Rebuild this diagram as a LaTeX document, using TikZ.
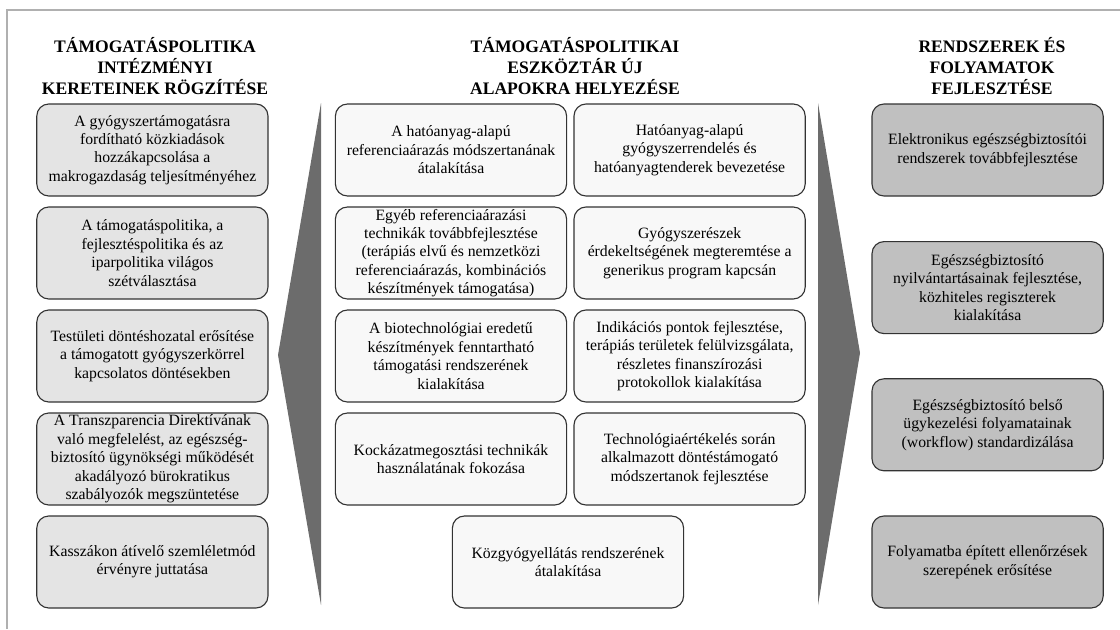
\documentclass[tikz,border=0pt]{standalone}
\usepackage{fontspec}
\setmainfont{Liberation Serif}
\usepackage{xcolor}
\definecolor{leftFill}{RGB}{228,228,228}
\definecolor{midFill}{RGB}{248,248,248}
\definecolor{rightFill}{RGB}{192,192,192}
\definecolor{arrowFill}{RGB}{108,108,108}
\definecolor{frameGray}{RGB}{176,176,176}
\usepackage{tikz}
\usetikzlibrary{positioning,calc}
\tikzstyle{box}=[draw=black!80, line width=0.8pt, rounded corners=0.3cm, minimum width=5.78cm, minimum height=2.3cm, inner xsep=2pt, inner ysep=0pt, align=center, font=\fontsize{11.2}{13.1}\selectfont]
\tikzstyle{head}=[align=center, font=\fontsize{12.5}{15}\selectfont\bfseries]

\begin{document}
\begin{tikzpicture}
        \useasboundingbox (0,0) rectangle (28,-15.725);
        \draw[frameGray, line width=1.5pt] (0.175,-15.725) -- (0.175,-0.25) -- (28,-0.25);
        % arrows
        \fill[arrowFill] (8.025,-2.575) -- (6.95,-8.875) -- (8.025,-15.125) -- cycle;
        \fill[arrowFill] (20.45,-2.575) -- (21.5,-8.825) -- (20.45,-15.125) -- cycle;
        % headings
        \node[head] (hl) at (3.875,-1.66) {TÁMOGATÁSPOLITIKA\\INTÉZMÉNYI\\KERETEINEK RÖGZÍTÉSE};
        \node[head] (hm) at (14.375,-1.66) {TÁMOGATÁSPOLITIKAI\\ESZKÖZTÁR ÚJ\\ALAPOKRA HELYEZÉSE};
        \node[head] (hr) at (24.8,-1.66) {RENDSZEREK ÉS\\FOLYAMATOK\\FEJLESZTÉSE};
        % left column
        \node[box, fill=leftFill] (l1) at (3.81,-3.75)
          {A gyógyszertámogatásra\\fordítható közkiadások\\hozzákapcsolása a\\makrogazdaság teljesítményéhez};
        \node[box, fill=leftFill] (l2) at (3.81,-6.325)
          {A támogatáspolitika, a\\fejlesztéspolitika és az\\iparpolitika világos\\szétválasztása};
        \node[box, fill=leftFill] (l3) at (3.81,-8.9)
          {Testületi döntéshozatal erősítése\\a támogatott gyógyszerkörrel\\kapcsolatos döntésekben};
        \node[box, fill=leftFill] (l4) at (3.81,-11.475)
          {A Transzparencia Direktívának\\való megfelelést, az egészség-\\biztosító ügynökségi működését\\akadályozó bürokratikus\\szabályozók megszüntetése};
        \node[box, fill=leftFill] (l5) at (3.81,-14.05)
          {Kasszákon átívelő szemléletmód\\érvényre juttatása};
        % middle column
        \node[box, fill=midFill] (m1) at (11.275,-3.75)
          {A hatóanyag-alapú\\referenciaárazás módszertanának\\átalakítása};
        \node[box, fill=midFill] (m2) at (17.24,-3.75)
          {Hatóanyag-alapú\\gyógyszerrendelés és\\hatóanyagtenderek bevezetése};
        \node[box, fill=midFill] (m3) at (11.275,-6.325)
          {Egyéb referenciaárazási\\technikák továbbfejlesztése\\(terápiás elvű és nemzetközi\\referenciaárazás, kombinációs\\készítmények támogatása)};
        \node[box, fill=midFill] (m4) at (17.24,-6.325)
          {Gyógyszerészek\\érdekeltségének megteremtése a\\generikus program kapcsán};
        \node[box, fill=midFill] (m5) at (11.275,-8.9)
          {A biotechnológiai eredetű\\készítmények fenntartható\\támogatási rendszerének\\kialakítása};
        \node[box, fill=midFill] (m6) at (17.24,-8.9)
          {Indikációs pontok fejlesztése,\\terápiás területek felülvizsgálata,\\részletes finanszírozási\\protokollok kialakítása};
        \node[box, fill=midFill] (m7) at (11.275,-11.475)
          {Kockázatmegosztási technikák\\használatának fokozása};
        \node[box, fill=midFill] (m8) at (17.24,-11.475)
          {Technológiaértékelés során\\alkalmazott döntéstámogató\\módszertanok fejlesztése};
        \node[box, fill=midFill] (m9) at (14.2,-14.05)
          {Közgyógyellátás rendszerének\\átalakítása};
        % right column
        \node[box, fill=rightFill] (r1) at (24.69,-3.75)
          {Elektronikus egészségbiztosítói\\rendszerek továbbfejlesztése};
        \node[box, fill=rightFill] (r2) at (24.69,-7.19)
          {Egészségbiztosító\\nyilvántartásainak fejlesztése,\\közhiteles regiszterek\\kialakítása};
        \node[box, fill=rightFill] (r3) at (24.69,-10.62)
          {Egészségbiztosító belső\\ügykezelési folyamatainak\\(workflow) standardizálása};
        \node[box, fill=rightFill] (r4) at (24.69,-14.05)
          {Folyamatba épített ellenőrzések\\szerepének erősítése};
      \end{tikzpicture}
\end{document}
